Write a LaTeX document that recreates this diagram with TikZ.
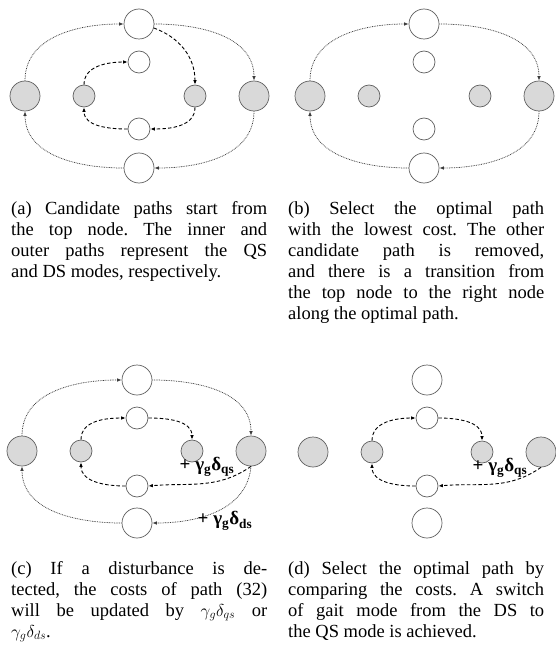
\documentclass[tikz,border=0pt]{standalone}
\usepackage{fontspec}
\setmainfont{Liberation Serif}
\frenchspacing
\usetikzlibrary{arrows.meta}
\definecolor{nodegray}{HTML}{D9D9D9}
\definecolor{edgegray}{HTML}{606060}
\definecolor{dotgray}{HTML}{3A3A3A}
\begin{document}
\begin{tikzpicture}[x=1pt,y=-1pt,
  bigw/.style={circle,draw=edgegray,line width=0.7pt,fill=white,minimum size=30pt,inner sep=0pt},
  bigg/.style={bigw,fill=nodegray},
  smallw/.style={bigw,minimum size=22pt},
  smallg/.style={smallw,fill=nodegray},
  outerpath/.style={draw=dotgray,line width=0.75pt,dash pattern=on 0.8pt off 0.9pt,-{Latex[length=4.5pt,width=3.6pt]}},
  innerpath/.style={draw=black,line width=0.9pt,dash pattern=on 3.5pt off 2.2pt,-{Latex[length=4.5pt,width=3.6pt]}},
  caption/.style={anchor=north west,inner sep=0pt,text width=256pt,align=justify,font=\fontsize{18.5}{21}\selectfont},
  costlabel/.style={inner sep=0pt,font=\fontsize{19}{19}\selectfont\bfseries}
]
\useasboundingbox (0,0) rectangle (556,650);

% ---------- panel (a)
\node[bigw]   (aTO) at (139,24) {};
\node[smallw] (aIT) at (139,62) {};
\node[bigg]   (aLO) at (25,96) {};
\node[smallg] (aLI) at (84,96) {};
\node[smallg] (aRI) at (195,96) {};
\node[bigg]   (aRO) at (254,96) {};
\node[smallw] (aIB) at (139,129) {};
\node[bigw]   (aBO) at (139,168) {};
\draw[outerpath] (aLO.north) to[out=90,in=180] (aTO.west);
\draw[outerpath] (aTO.east) to[out=0,in=90] (aRO.north);
\draw[outerpath] (aRO.south) to[out=-90,in=0] (aBO.east);
\draw[outerpath] (aBO.west) to[out=180,in=-90] (aLO.south);
\draw[innerpath] (aLI.north) to[out=90,in=180] (aIT.west);
\draw[innerpath] (aTO.-15) to[out=-20,in=90] (aRI.north);
\draw[innerpath] (aRI.south) to[out=-90,in=0] (aIB.east);
\draw[innerpath] (aIB.west) to[out=180,in=-90] (aLI.south);

% ---------- panel (b)
\node[bigw]   (bTO) at (424,24) {};
\node[smallw] (bIT) at (424,62) {};
\node[bigg]   (bLO) at (310,96) {};
\node[smallg] (bLI) at (369,96) {};
\node[smallg] (bRI) at (480,96) {};
\node[bigg]   (bRO) at (539,96) {};
\node[smallw] (bIB) at (424,129) {};
\node[bigw]   (bBO) at (424,168) {};
\draw[outerpath] (bLO.north) to[out=90,in=180] (bTO.west);
\draw[outerpath] (bTO.east) to[out=0,in=90] (bRO.north);
\draw[outerpath] (bRO.south) to[out=-90,in=0] (bBO.east);
\draw[outerpath] (bBO.west) to[out=180,in=-90] (bLO.south);

% ---------- panel (c)
\node[bigw]   (cTO) at (137,380) {};
\node[smallw] (cIT) at (137,418) {};
\node[bigg]   (cLO) at (22,451) {};
\node[smallg] (cLI) at (81,451) {};
\node[smallg] (cRI) at (192,451) {};
\node[bigg]   (cRO) at (251,451) {};
\node[smallw] (cIB) at (137,486) {};
\node[bigw]   (cBO) at (137,523) {};
\draw[outerpath] (cLO.north) to[out=90,in=180] (cTO.west);
\draw[outerpath] (cTO.east) to[out=0,in=90] (cRO.north);
\draw[outerpath] (cRO.south) to[out=-95,in=0] (cBO.east);
\draw[outerpath] (cBO.west) to[out=180,in=-90] (cLO.south);
\draw[innerpath] (cLI.north) to[out=90,in=180] (cIT.west);
\draw[innerpath] (cIT.east) to[out=0,in=90] (cRI.north);
\draw[innerpath] (cRO.south) to[out=-145,in=5] (cIB.east);
\draw[innerpath] (cIB.west) to[out=180,in=-90] (cLI.south);
\node[costlabel] (cqs) at (207,467) {+ γ\textsubscript{g}δ\textsubscript{qs}};
\node[costlabel] (cds) at (225,521) {+ γ\textsubscript{g}δ\textsubscript{ds}};

% ---------- panel (d)
\node[bigw]   (dTO) at (427,380) {};
\node[smallw] (dIT) at (427,418) {};
\node[bigg]   (dLO) at (313,452) {};
\node[smallg] (dLI) at (372,452) {};
\node[smallg] (dRI) at (482,452) {};
\node[bigg]   (dRO) at (541,452) {};
\node[smallw] (dIB) at (427,486) {};
\node[bigw]   (dBO) at (427,523) {};
\draw[innerpath] (dLI.north) to[out=90,in=180] (dIT.west);
\draw[innerpath] (dIT.east) to[out=0,in=90] (dRI.north);
\draw[innerpath] (dRO.south) to[out=-145,in=5] (dIB.east);
\draw[innerpath] (dIB.west) to[out=180,in=-90] (dLI.south);
\node[costlabel] (dqs) at (500,468) {+ γ\textsubscript{g}δ\textsubscript{qs}};

% ---------- captions
\node[caption] (capa) at (11,201) {(a) Candidate paths start from\linebreak the top node. The inner and\linebreak outer paths represent the QS\linebreak and DS modes, respectively.};
\node[caption] (capb) at (288,201) {(b) Select the optimal path\linebreak with the lowest cost. The other\linebreak candidate path is removed,\linebreak and there is a transition from\linebreak the top node to the right node\linebreak along the optimal path.};
\node[caption] (capc) at (11,561) {(c) If a disturbance is de-\linebreak tected, the costs of path (32)\linebreak will be updated by $\gamma_g\delta_{qs}$ or\linebreak $\gamma_g\delta_{ds}$.};
\node[caption] (capd) at (288,561) {(d) Select the optimal path by\linebreak comparing the costs. A switch\linebreak of gait mode from the DS to\linebreak the QS mode is achieved.};
\end{tikzpicture}
\end{document}
